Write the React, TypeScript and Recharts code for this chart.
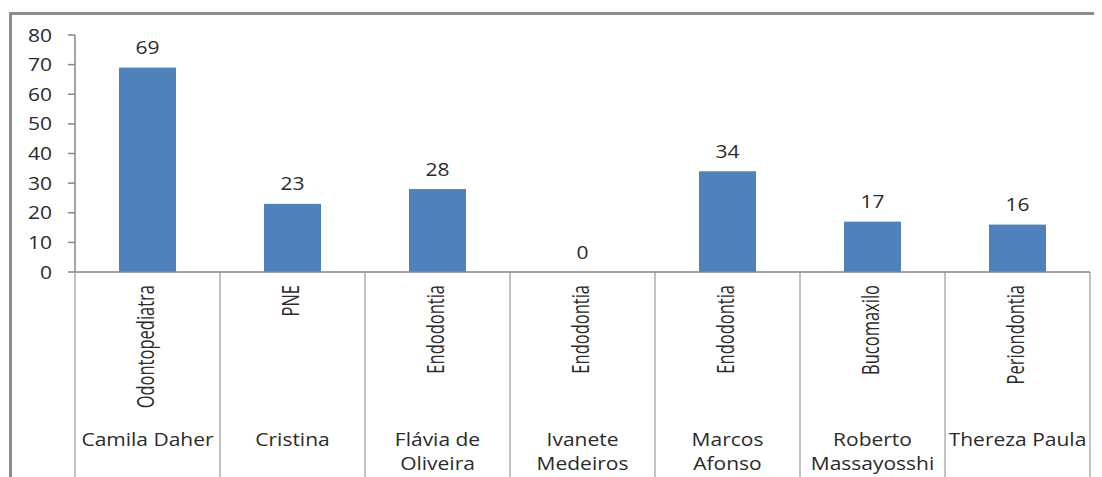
import React from 'react';
import { BarChart, Bar, XAxis, YAxis } from 'recharts';

const names = [
  'Camila Daher',
  'Cristina',
  'Flávia de\nOliveira',
  'Ivanete\nMedeiros',
  'Marcos\nAfonso',
  'Roberto\nMassayosshi',
  'Thereza Paula',
];
const specialties = [
  'Odontopediatra',
  'PNE',
  'Endodontia',
  'Endodontia',
  'Endodontia',
  'Bucomaxilo',
  'Periondontia',
];
const values = [69, 23, 28, 0, 34, 17, 16];
const yTicks = [0, 10, 20, 30, 40, 50, 60, 70, 80];

const data = names.map((n, i) => ({ key: String(i), name: n, specialty: specialties[i], value: values[i] }));

const AXIS = '#868686';
const TEXT = '#2b2b2b';
const FONT = '"Open Sans", sans-serif';
const SX = 1.2;

const YTick = (props: any) => {
  const { x, y, payload } = props;
  return (
    <text
      transform={`translate(${x},${y + 6.5}) scale(${SX},1)`}
      textAnchor="end"
      fontFamily={FONT}
      fontSize={17.5}
      fill={TEXT}
    >
      {payload.value}
    </text>
  );
};

const XTick = (props: any) => {
  const { x, y, payload, width, height } = props;
  const i = Number(payload.value);
  const band = width / data.length;
  const left = x - band / 2;
  const lines = names[i].split('\n');
  return (
    <g>
      <line x1={left} x2={left} y1={y} y2={y + height} stroke={AXIS} strokeWidth={1} />
      {i === data.length - 1 && (
        <line x1={left + band} x2={left + band} y1={y} y2={y + height} stroke={AXIS} strokeWidth={1} />
      )}
      <text
        transform={`translate(${x + 6},${y + 13}) scale(1.45,1) rotate(-90)`}
        textAnchor="end"
        fontFamily={FONT}
        fontSize={16.5}
        fill={TEXT}
      >
        {specialties[i]}
      </text>
      {lines.map((ln, k) => (
        <text
          key={k}
          transform={`translate(${x},${y + 174 + k * 24}) scale(${SX},1)`}
          textAnchor="middle"
          fontFamily={FONT}
          fontSize={17.5}
          fill={TEXT}
        >
          {ln}
        </text>
      ))}
    </g>
  );
};

const BarWithLabel = (props: any) => {
  const { x, y, width, height, value, fill } = props;
  const v = Array.isArray(value) ? value[1] - value[0] : value;
  return (
    <g>
      {height > 0 && <rect x={x} y={y} width={width} height={height} fill={fill} />}
      <text
        transform={`translate(${x + width / 2},${y - 13.5}) scale(${SX},1)`}
        textAnchor="middle"
        fontFamily={FONT}
        fontSize={17.5}
        fill={TEXT}
      >
        {v}
      </text>
    </g>
  );
};

export default function App() {
  return (
    <div style={{ position: 'relative', width: 1094, height: 469, background: '#fff' }}>
      <div
        style={{
          position: 'absolute',
          left: 1,
          top: 4,
          right: -8,
          bottom: 0,
          borderTop: '3px solid #8c8c8c',
          borderLeft: '3px solid #8c8c8c',
        }}
      />
      <div style={{ position: 'absolute', left: 0, top: 0 }}>
        <BarChart
          width={1094}
          height={469}
          data={data}
          margin={{ top: 27, right: 12, bottom: 0, left: 7 }}
        >
          <XAxis
            dataKey="key"
            interval={0}
            height={205}
            tickSize={0}
            tickMargin={0}
            tickLine={false}
            axisLine={{ stroke: AXIS, strokeWidth: 1.5 }}
            tick={<XTick />}
          />
          <YAxis
            width={60}
            domain={[0, 80]}
            ticks={yTicks}
            interval={0}
            tickSize={7}
            tickMargin={16}
            tickLine={{ stroke: AXIS, strokeWidth: 1.5 }}
            axisLine={{ stroke: AXIS, strokeWidth: 1.5 }}
            tick={<YTick />}
          />
          <Bar
            dataKey="value"
            fill="#4F81BD"
            barSize={57}
            isAnimationActive={false}
            shape={<BarWithLabel />}
          />
        </BarChart>
      </div>
    </div>
  );
}
